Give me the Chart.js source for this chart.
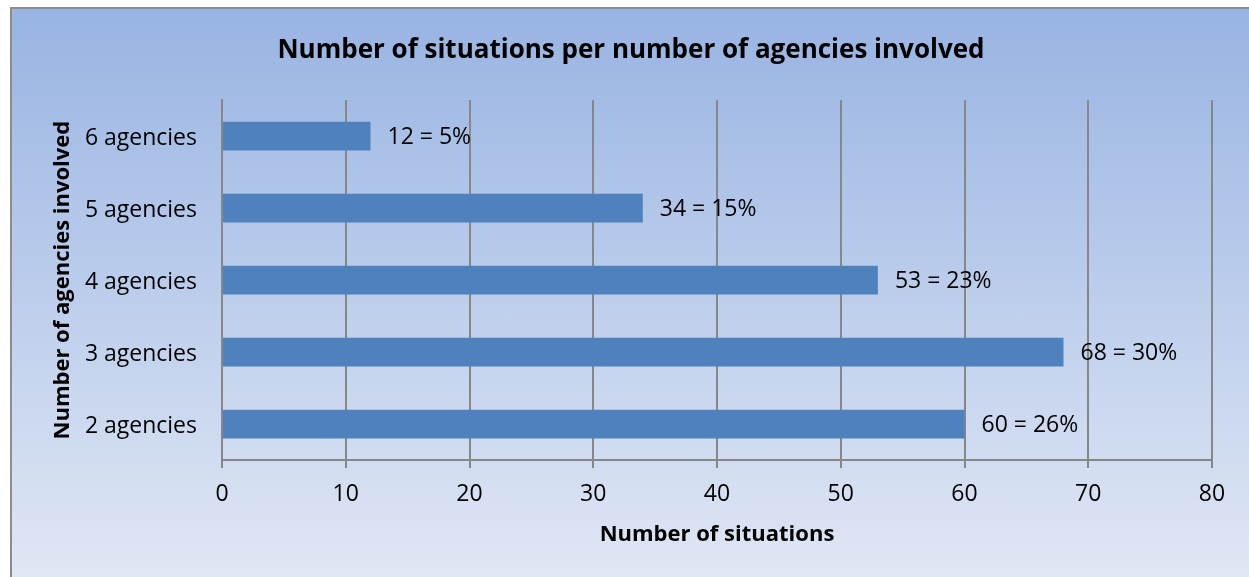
<!DOCTYPE html>
<html>
<head>
<meta charset="utf-8">
<script src="https://cdn.jsdelivr.net/npm/chart.js@4.4.1/dist/chart.umd.min.js"></script>
<style>
    html, body { margin: 0; padding: 0; background: #fff; overflow: hidden; }
    #wrap { position: relative; width: 1249px; height: 577px; }
    #frame {
        position: absolute; left: 10px; top: 7px; width: 1250px; height: 580px;
        border: 2px solid #8c8c8c; box-sizing: border-box;
        background: linear-gradient(to bottom, #98b4e2 0%, #b9cbeb 45%, #e1e8f5 100%);
    }
    #agencyChart { position: absolute; left: 0; top: 0; }
</style>
</head>
<body>
<div id="wrap">
    <div id="frame"></div>
    <canvas id="agencyChart" width="1249" height="577"></canvas>
</div>
<script>
const categories = ['6 agencies', '5 agencies', '4 agencies', '3 agencies', '2 agencies'];
const situations = [12, 34, 53, 68, 60];
const percentages = [5, 15, 23, 30, 26];
const xTicks = [0, 10, 20, 30, 40, 50, 60, 70, 80];

const FONT = '"Open Sans", sans-serif';
const GRID = '#878787';

// writes "n = p%" just past the end of each bar
const valueLabels = {
    id: 'valueLabels',
    afterDatasetsDraw(chart) {
        const ctx = chart.ctx;
        const meta = chart.getDatasetMeta(0);
        ctx.save();
        ctx.font = '23px ' + FONT;
        ctx.fillStyle = '#000';
        ctx.textAlign = 'left';
        ctx.textBaseline = 'middle';
        meta.data.forEach((bar, i) => {
            ctx.fillText(situations[i] + ' = ' + percentages[i] + '%', bar.x + 17, bar.y + 1);
        });
        ctx.restore();
    }
};

Chart.defaults.font.family = FONT;
Chart.defaults.color = '#000';

new Chart(document.getElementById('agencyChart'), {
    type: 'bar',
    data: {
        labels: categories,
        datasets: [{
            data: situations,
            backgroundColor: '#4f81bd',
            borderWidth: 0,
            barPercentage: 0.4,
            categoryPercentage: 1
        }]
    },
    options: {
        indexAxis: 'y',
        responsive: false,
        animation: false,
        layout: { padding: { left: 50, right: 37, top: 0, bottom: 0 } },
        plugins: {
            legend: { display: false },
            tooltip: { enabled: false },
            title: {
                display: true,
                text: 'Number of situations per number of agencies involved',
                font: { size: 26, weight: 'bold' },
                padding: { top: 35, bottom: 34 }
            }
        },
        scales: {
            x: {
                min: 0,
                max: 80,
                afterBuildTicks(scale) { scale.ticks = xTicks.map(v => ({ value: v })); },
                afterFit(scale) { scale.height = 117; },
                grid: { color: GRID, lineWidth: 2, tickLength: 8 },
                border: { color: GRID, width: 2 },
                ticks: { font: { size: 23 }, padding: 13 },
                title: {
                    display: true,
                    text: 'Number of situations',
                    font: { size: 22, weight: 'bold' },
                    padding: { top: 29, bottom: 29 }
                }
            },
            y: {
                afterFit(scale) { scale.width = 172; },
                grid: { display: false, drawTicks: false },
                border: { color: GRID, width: 2 },
                ticks: { font: { size: 23 }, padding: 25, labelOffset: 2 },
                title: {
                    display: true,
                    text: 'Number of agencies involved',
                    font: { size: 22, weight: 'bold' },
                    padding: { top: 0, bottom: 0 }
                }
            }
        }
    },
    plugins: [valueLabels]
});
</script>
</body>
</html>
